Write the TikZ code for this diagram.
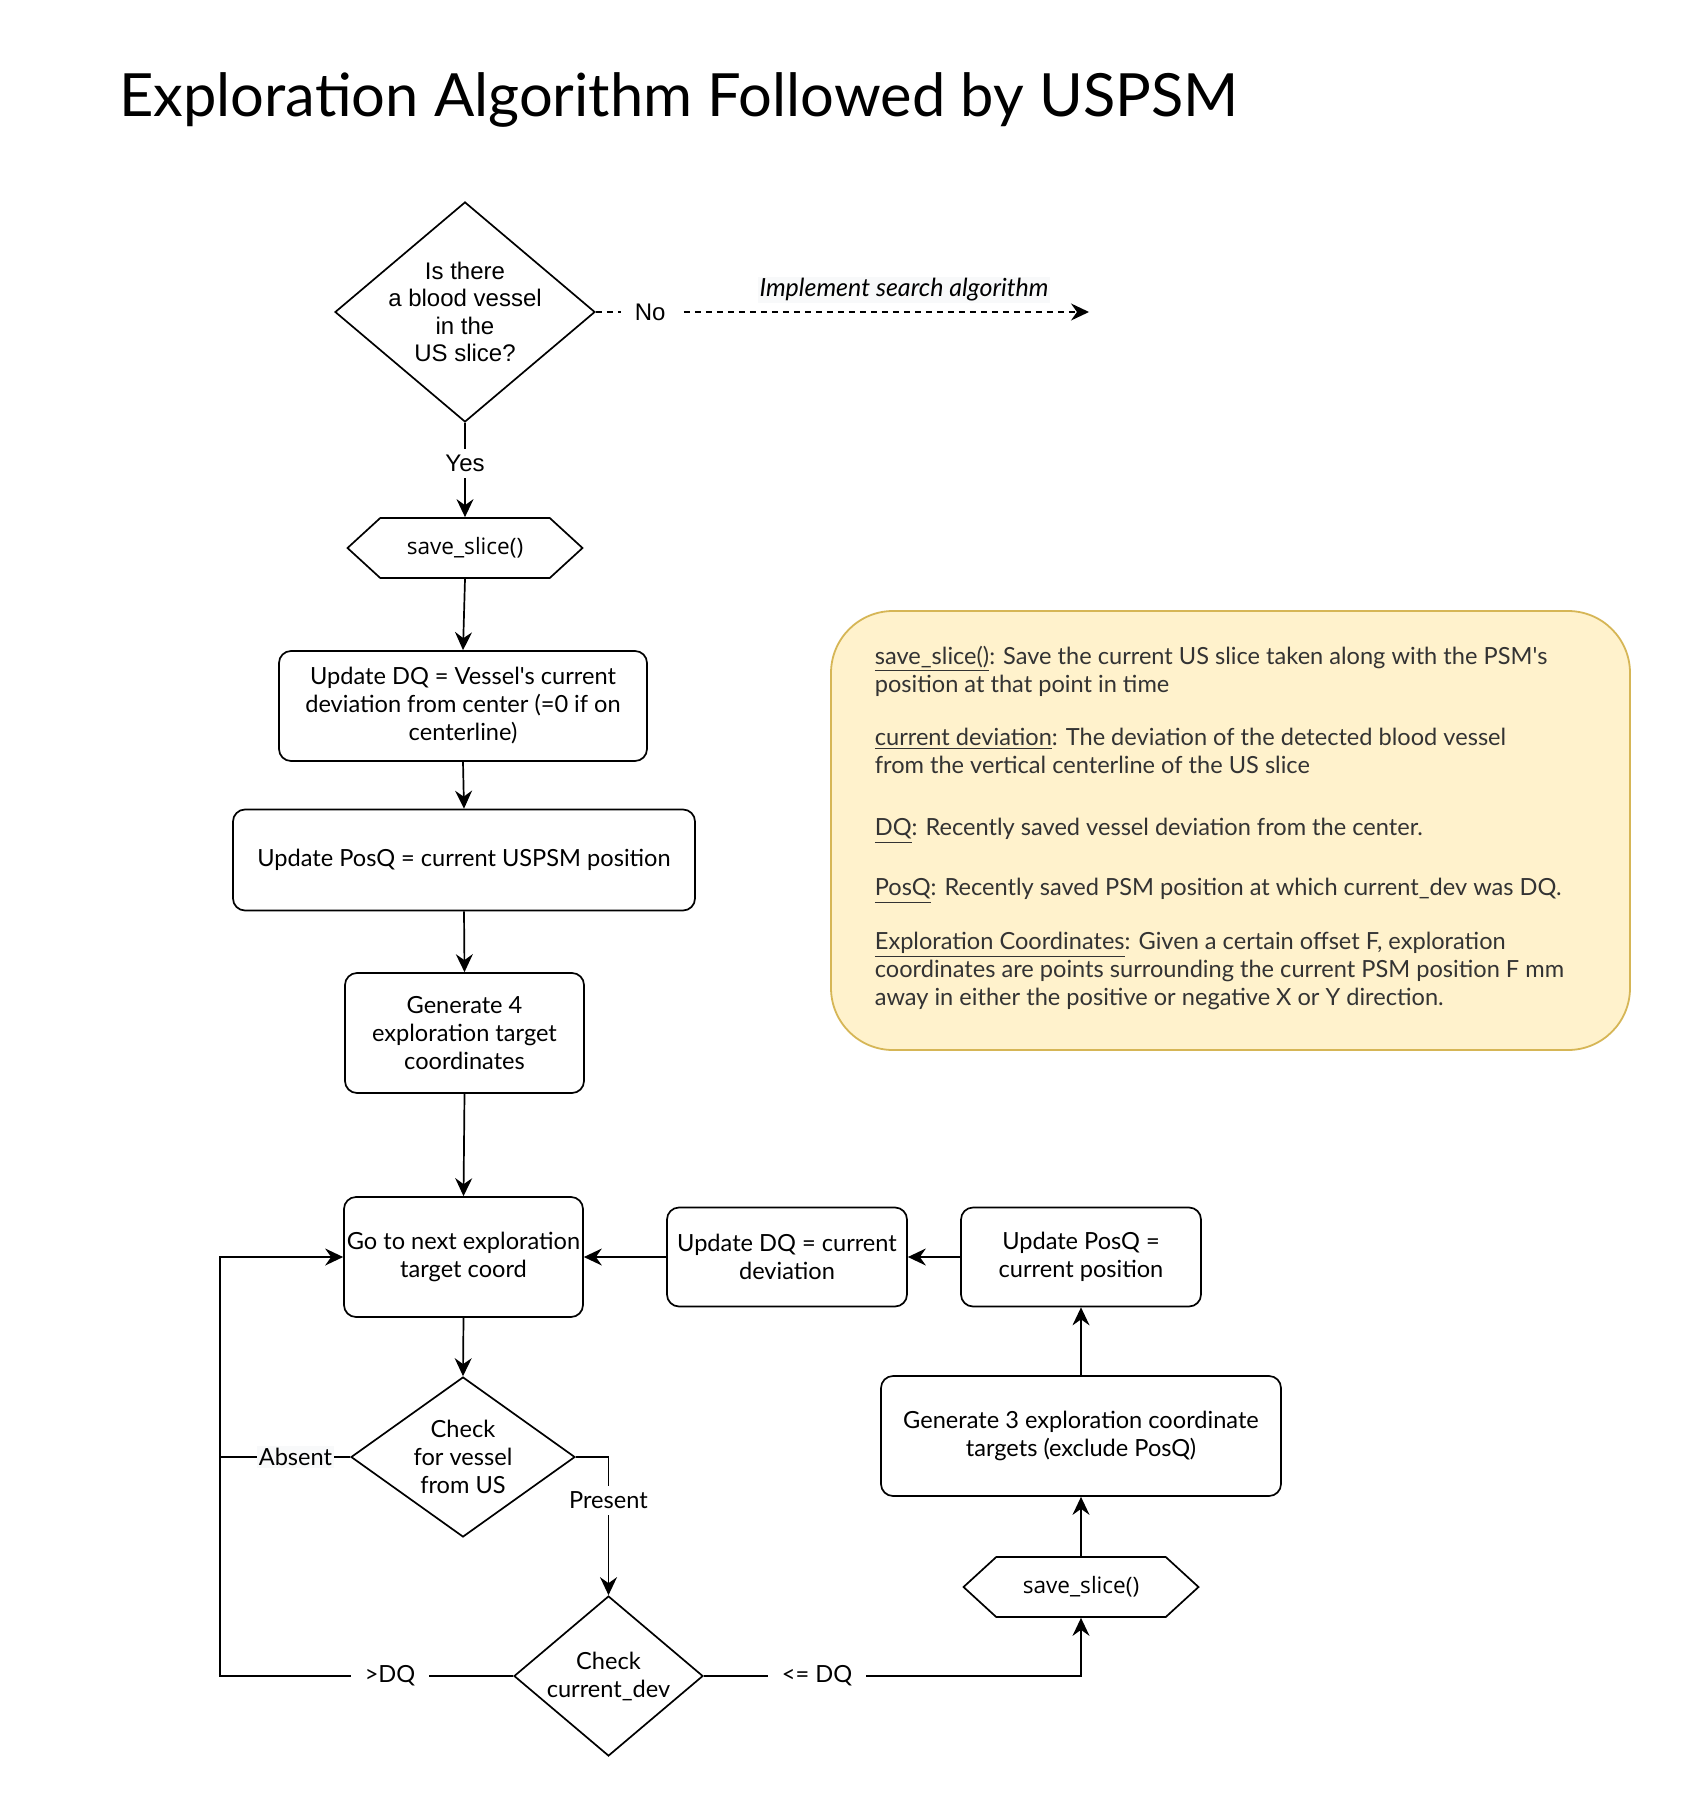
\documentclass[tikz,border=0pt]{standalone}
\usepackage{fontspec}
\setmainfont{Lato}
\newfontfamily\arialfont{Liberation Sans}
\newfontfamily\opensansfont{Open Sans}
\usetikzlibrary{shapes.geometric,shapes.symbols,arrows.meta}
\definecolor{notefill}{HTML}{FFF2CC}
\definecolor{notedraw}{HTML}{D6B656}
\definecolor{notetext}{HTML}{333333}
\definecolor{lblback}{HTML}{F8F9FA}

\begin{document}
\begin{tikzpicture}[x=0.5pt, y=-0.5pt, line width=0.85pt,
    txt/.style={font=\fontsize{11.8}{14}\selectfont},
    box/.style={txt, draw, rounded corners=6pt, align=center, inner sep=2pt},
    decision/.style={txt, draw, diamond, align=center, inner sep=-6pt},
    hexbox/.style={draw, signal, signal to=east and west, signal pointer angle=85,
      minimum height=30pt, minimum width=117.5pt, inner sep=0pt,
      font=\opensansfont\fontsize{11.3}{14}\selectfont},
    lbl/.style={txt, fill=white, inner xsep=7pt, inner ysep=3pt},
    deftext/.style={txt, text=notetext, align=left, anchor=west, inner sep=0pt},
    arr/.style={-{Stealth[length=9pt, width=8.5pt, inset=3pt]}}]

\useasboundingbox[fill=white] (0,0) rectangle (1682,1808);

% title
\node[font=\fontsize{29.8}{36}\selectfont] (title) at (679,100) {Exploration Algorithm Followed by USPSM};

% ----------------------------------------------------------
% Main column
% ----------------------------------------------------------
\node[decision, font=\arialfont\fontsize{12}{13.8}\selectfont,
  minimum width=130pt, minimum height=110pt] (q1) at (465,312) {Is there\\a blood vessel\\in the\\US slice?};
\node[hexbox] (save1) at (465,548) {save\_slice()};
\node[box, minimum width=184pt, minimum height=55pt] (upd1) at (463,706)
  {Update DQ = Vessel\textquotesingle s current\\deviation from center (=0 if on\\centerline)};
\node[box, minimum width=231pt, minimum height=50.5pt] (pos1) at (464,860) {Update PosQ = current USPSM position};
\node[box, minimum width=119.5pt, minimum height=60pt] (gen4) at (464.5,1033) {Generate 4\\exploration target\\coordinates};
\node[box, minimum width=119.5pt, minimum height=60pt, inner sep=0pt] (goto) at (463.5,1257) {Go to next exploration\\target coord};
\node[decision, minimum width=112pt, minimum height=80pt] (chk) at (463,1457) {Check\\for vessel\\from US};
\node[decision, minimum width=94.5pt, minimum height=80pt] (dev) at (608.5,1676) {Check\\current\_dev};

% ----------------------------------------------------------
% Right column
% ----------------------------------------------------------
\node[box, minimum width=120pt, minimum height=49.5pt] (upd2) at (787,1257) {Update DQ = current\\deviation};
\node[box, minimum width=120pt, minimum height=49.5pt] (pos2) at (1081,1257) {Update PosQ =\\current position};
\node[box, minimum width=200pt, minimum height=60pt] (gen3) at (1081,1436) {Generate 3 exploration coordinate\\targets (exclude PosQ)};
\node[hexbox] (save2) at (1081,1587) {save\_slice()};

% free ends and corners
\coordinate (noEnd) at (1089,312);
\coordinate (loopA) at (220,1457);
\coordinate (loopB) at (220,1676);

% ----------------------------------------------------------
% Connectors
% ----------------------------------------------------------
\draw[arr] (q1.south) -- node[lbl, font=\arialfont\fontsize{12}{14}\selectfont, pos=0.43] (yes) {Yes} (save1.north);
\draw[arr, dash pattern=on 3pt off 2.5pt] (q1.east) -- node[lbl, font=\arialfont\fontsize{12}{14}\selectfont, pos=0.11] (no) {No} (noEnd);
\node[txt, font=\itshape\fontsize{12.5}{14}\selectfont, fill=lblback, inner sep=1pt] (search) at (904,290) {Implement search algorithm};

\foreach \a/\b in {save1/upd1, upd1/pos1, pos1/gen4, gen4/goto, goto/chk}
  \draw[arr] (\a.south) -- (\b.north);

\draw (chk.west) -- node[lbl, pos=0.42, fill=lblback, inner sep=1pt] (absent) {Absent} (loopA);
\draw[arr] (dev.west) -- node[lbl, pos=0.42] (gtdq) {>DQ} (loopB) |- (goto.west);
\draw[arr] (chk.east) -| node[lbl, pos=0.657, inner xsep=1pt] (present) {Present} (dev.north);
\draw[arr] (dev.east) -| node[lbl, pos=0.15] (ledq) {<= DQ} (save2.south);

\foreach \a/\b in {save2.north/gen3.south, gen3.north/pos2.south, pos2.west/upd2.east, upd2.west/goto.east}
  \draw[arr] (\a) -- (\b);

% ----------------------------------------------------------
% Definitions note
% ----------------------------------------------------------
\node[draw=notedraw, fill=notefill, rounded corners=31pt, line width=0.9pt,
  minimum width=399.5pt, minimum height=219.5pt] (note) at (1230.5,830.5) {};
\node[deftext] (def1) at (874,671) {\underline{save\_slice()}: Save the current US slice taken along with the PSM\textquotesingle s\\position at that point in time};
\node[deftext] (def2) at (874,750.5) {\underline{current deviation}: The deviation of the detected blood vessel\\from the vertical centerline of the US slice};
\node[deftext] (def3) at (874,831) {\underline{DQ}: Recently saved vessel deviation from the center.};
\node[deftext] (def4) at (874,891) {\underline{PosQ}: Recently saved PSM position at which current\_dev was DQ.};
\node[deftext] (def5) at (874,971) {\underline{Exploration Coordinates}: Given a certain offset F, exploration\\coordinates are points surrounding the current PSM position F mm\\away in either the positive or negative X or Y direction.};

\end{tikzpicture}
\end{document}
